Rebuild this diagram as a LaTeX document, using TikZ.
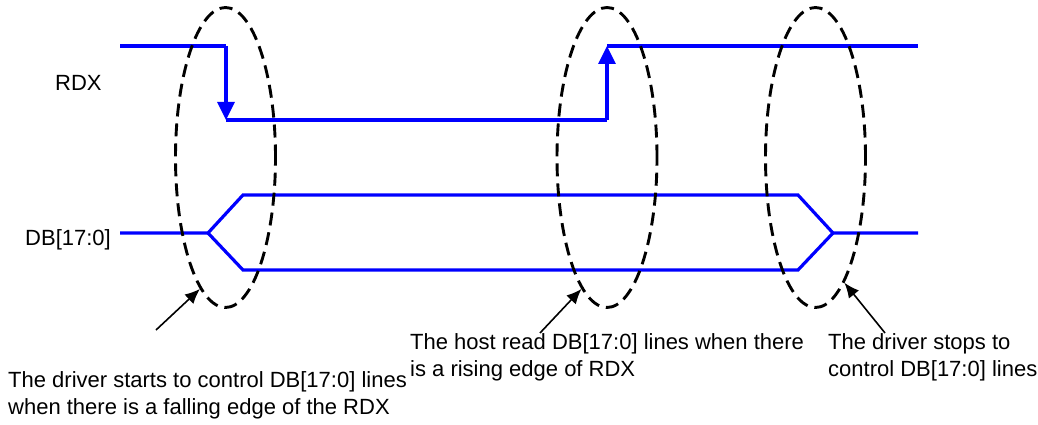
\documentclass[tikz,border=0pt]{standalone}
\usepackage{fontspec}
\setmainfont{Liberation Sans}
\usetikzlibrary{shapes.geometric, arrows.meta, positioning, calc}
\tikzset{
  sig/.style={draw=blue, line width=3.2pt},
  sigar/.style={sig, -{Triangle[length=18pt, width=17pt]}},
  ring/.style={ellipse, draw=black, dash pattern=on 13pt off 7pt, line width=2.9pt,
               minimum width=100pt, minimum height=300pt, inner sep=0pt},
  lbl/.style={font=\fontsize{22}{26.5}\selectfont, anchor=base west, inner sep=0pt},
  note/.style={lbl, align=left},
  ptr/.style={-{Latex[length=15pt, width=13pt]}, draw=black, line width=1.6pt}
}
\begin{document}
\begin{tikzpicture}[x=1pt, y=-1pt]
\useasboundingbox (0,0) rectangle (1038,425);
% signal names
\node[lbl] (rdx) at (55,91) {RDX};
\node[lbl] (db) at (25,245) {DB[17:0]};
% RDX waveform
\coordinate (r0) at (120,46);
\coordinate (r1) at (226,46);
\coordinate (r2) at (226,120);
\coordinate (r3) at (607,120);
\coordinate (r4) at (607,46);
\coordinate (r5) at (918,46);
\draw[sig] (r0) -- (r1);
\draw[sigar] (r1) -- (r2);
\draw[sig] (r2) -- (r3);
\draw[sigar] (r3) -- (r4);
\draw[sig] (r4) -- (r5);
% DB waveform
\coordinate (d0) at (120,233);
\coordinate (d1) at (208,233);
\coordinate (d2) at (833,233);
\coordinate (d3) at (918,233);
\draw[sig, line join=miter] (d0) -- (d1) -- (243,195) -- (798,195) -- (d2) -- (d3);
\draw[sig, line join=miter] (d1) -- (243,270) -- (798,270) -- (d2);
% dashed rings
\node[ring] (e1) at (225.5,157.5) {};
\node[ring] (e2) at (607,157.5) {};
\node[ring] (e3) at (815.5,157.5) {};
% notes (base = last line)
\node[note] (n1) at (8,414) {The driver starts to control DB[17:0] lines\\when there is a falling edge of the RDX};
\node[note] (n2) at (410,376) {The host read DB[17:0] lines when there\\is a rising edge of RDX};
\node[note] (n3) at (828,376) {The driver stops to\\control DB[17:0] lines};
\coordinate (a1) at (156,330);
\coordinate (a2) at (540,333);
\coordinate (a3) at (885,333);
\draw[ptr] (a1) -- (e1.259);
\draw[ptr] (a2) -- (e2.259);
\draw[ptr] (a3) -- (e3.283);
\end{tikzpicture}
\end{document}
